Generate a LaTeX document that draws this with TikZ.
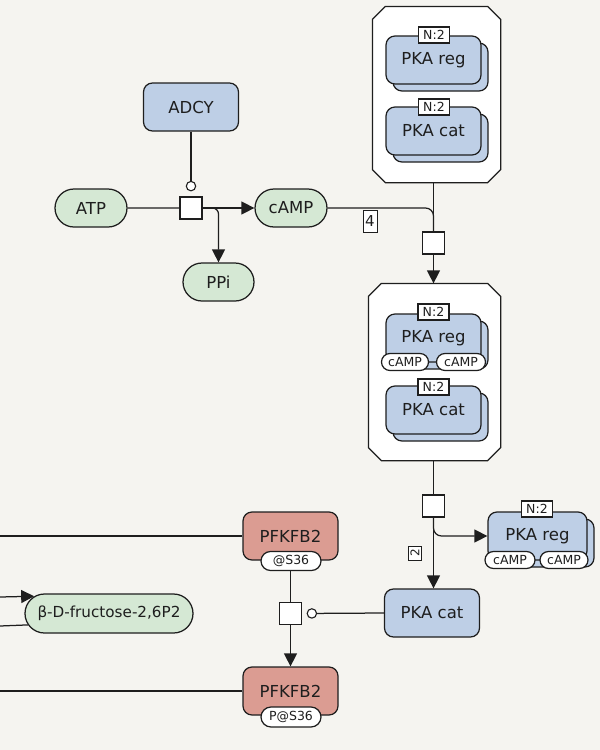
\documentclass[tikz,border=0pt]{standalone}
\usepackage{fontspec}
\setmainfont{DejaVu Sans}
\usetikzlibrary{arrows.meta,shapes.misc,calc}
\definecolor{bgc}{HTML}{F5F4F0}
\definecolor{blueF}{HTML}{BECFE6}
\definecolor{greenF}{HTML}{D5E8D4}
\definecolor{redF}{HTML}{DB9C92}
\definecolor{lnc}{HTML}{1E1E1E}
\newcommand\octpath[1]{\draw[cxdraw] ($(#1.north west)+(13,0)$) -- ($(#1.north east)+(-13,0)$) -- ($(#1.north east)+(0,13)$) -- ($(#1.south east)+(0,-13)$) -- ($(#1.south east)+(-13,0)$) -- ($(#1.south west)+(13,0)$) -- ($(#1.south west)+(0,-13)$) -- ($(#1.north west)+(0,13)$) -- cycle;}
\begin{document}
\begin{tikzpicture}[x=1pt,y=-1pt, color=lnc,
  every path/.style={line width=1.25pt},
  tri/.tip={Triangle[length=13pt,width=13pt]},
  cat/.tip={Circle[fill=white,length=10.5pt,width=10.5pt,line width=1.1pt]},
  bigfont/.style={font=\fontsize{16.5}{19}\selectfont},
  smallfont/.style={font=\fontsize{12.5}{14}\selectfont},
  macro/.style={draw, fill=blueF, rounded corners=9pt, minimum width=95pt, minimum height=48pt, inner sep=0pt, bigfont},
  shadowbox/.style={draw, fill=blueF, rounded corners=9pt, minimum width=95pt, minimum height=48pt, inner sep=0pt},
  redmacro/.style={macro, fill=redF},
  simple/.style={rounded rectangle, draw, fill=greenF, minimum height=38pt, inner sep=0pt, bigfont},
  unit/.style={rounded rectangle, draw, fill=white, minimum height=17pt, inner sep=0pt, smallfont},
  multlbl/.style={draw, fill=white, minimum width=31pt, minimum height=16pt, inner sep=0pt, smallfont},
  proc/.style={draw, fill=white, minimum size=22pt, inner sep=0pt},
  cxnode/.style={inner sep=0pt},
  cxdraw/.style={draw=lnc, fill=white, line width=1.25pt},
  edgelbl/.style={draw, fill=white, inner sep=0pt, line width=1pt}
]
\fill[bgc] (0,0) rectangle (600,750);
\useasboundingbox (0,0) rectangle (600,750);

% ADCY reaction
\node[macro] (ADCY) at (191,107) {ADCY};
\node[simple, minimum width=72pt] (ATP) at (91,208) {ATP};
\node[proc] (p1) at (191,208) {};
\node[simple, minimum width=72pt] (cAMP) at (291,208) {cAMP};
\node[simple, minimum width=71pt] (PPi) at (218.5,282) {PPi};
\draw (ATP) -- (p1);
\draw[-tri] (p1) -- (cAMP);
\draw[-tri, rounded corners=6pt] (p1.east) -| (PPi.north);
\draw[-cat, shorten >=5pt] (ADCY) -- (p1);

% top complex
\node[cxnode, minimum width=127pt, minimum height=175pt] (cxT) at (436.5,94.5) {};
\octpath{cxT}
\node[shadowbox] (regTs) at (440.5,67) {};
\node[macro] (regT) at (433.5,60) {PKA reg};
\node[multlbl] (regTn) at (434,35) {N:2};
\node[shadowbox] (catTs) at (440.5,138) {};
\node[macro] (catT) at (433.5,131) {PKA cat};
\node[multlbl] (catTn) at (434,107) {N:2};

% association
\node[proc] (p2) at (433.5,243) {};
\draw[rounded corners=8pt] (cAMP.east) -| (p2.north);
\draw (p2.north |- cxT.south) -- (p2.north);
\node[edgelbl, minimum width=14pt, minimum height=22pt, font=\fontsize{15}{17}\selectfont] (lbl4) at (370,221) {4};

% middle complex
\node[cxnode, minimum width=131pt, minimum height=176pt] (cxM) at (434.5,372) {};
\draw[-tri] (p2.south) -- (p2.south |- cxM.north);
\octpath{cxM}
\node[shadowbox] (regMs) at (440.5,345) {};
\node[macro] (regM) at (433.5,338) {PKA reg};
\node[unit, minimum width=47pt] (regMu1) at (405,362) {cAMP};
\node[unit, minimum width=49pt] (regMu2) at (461,362) {cAMP};
\node[multlbl] (regMn) at (433.5,312) {N:2};
\node[shadowbox] (catMs) at (440.5,417) {};
\node[macro] (catM) at (433.5,410) {PKA cat};
\node[multlbl] (catMn) at (433.5,387) {N:2};

% dissociation
\node[proc] (p3) at (433.5,506) {};
\draw (p3.north |- cxM.south) -- (p3.north);
\node[macro] (catB) at (432,613) {PKA cat};
\draw[-tri] (p3.south) -- (p3.south |- catB.north);
\node[edgelbl, minimum width=14pt, minimum height=13pt, font=\fontsize{12}{14}\selectfont, rotate=90] (lbl2) at (415,553) {2};

\node[shadowbox, minimum width=99pt] (regRs) at (544.5,543) {};
\node[macro, minimum width=99pt] (regR) at (537.5,536) {PKA reg};
\node[unit, minimum width=50pt] (regRu1) at (510,560) {cAMP};
\node[unit, minimum width=48pt] (regRu2) at (564,560) {cAMP};
\node[multlbl] (regRn) at (537,509) {N:2};
\draw[-tri, rounded corners=8pt] (p3.south) |- (regR.west);

% PFKFB2 phosphorylation
\node[redmacro] (PF1) at (290.5,536) {PFKFB2};
\node[unit, minimum width=60pt, minimum height=19pt] (PF1u) at (291,561) {@S36};
\node[proc] (p4) at (290.5,613.5) {};
\node[redmacro] (PF2) at (290.5,691) {PFKFB2};
\node[unit, minimum width=60pt, minimum height=20pt] (PF2u) at (291,717) {P@S36};
\draw (p4.north |- PF1u.south) -- (p4.north);
\draw[-tri] (p4.south) -- (p4.south |- PF2.north);
\draw[-cat, shorten >=4.5pt] (catB.west) -- (p4.east);

% left side
\coordinate (L1) at (0,536);
\coordinate (L2) at (0,691);
\coordinate (L3) at (0,597);
\coordinate (L4) at (0,626);
\draw (L1) -- (PF1.west);
\draw (L2) -- (PF2.west);
\node[simple, minimum width=168pt, minimum height=39pt, font=\fontsize{15.2}{18}\selectfont] (fru) at (109,613.5) {β-D-fructose-2,6P2};
\draw[-tri] (L3) -- (fru.167.6);
\draw (L4) -- (fru.188.9);
\end{tikzpicture}
\end{document}
